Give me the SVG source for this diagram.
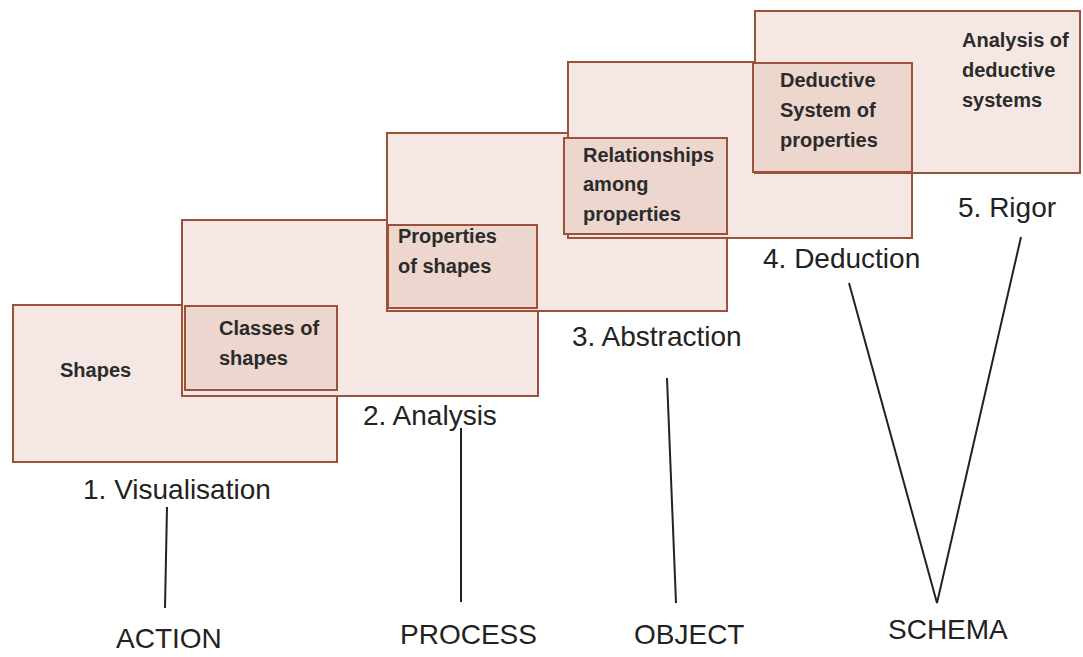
<svg xmlns="http://www.w3.org/2000/svg" width="1083" height="657" viewBox="0 0 1083 657">
<style>
.box{fill:#f5e8e4;stroke:#9c5238;stroke-width:2}
.inner{fill:#ecd6cd;stroke:#9c5238;stroke-width:2}
.in{font-family:"Liberation Sans",Arial,sans-serif;font-size:20px;font-weight:bold;fill:#2b2b2b}
.lbl{font-family:"Liberation Sans",Arial,sans-serif;font-size:28px;fill:#222}
.con{fill:none;stroke:#222;stroke-width:2}
</style>
<rect width="1083" height="657" fill="#ffffff"/>
<g id="level1"><rect class="box" x="13" y="305" width="324" height="157"/></g>
<g id="level2"><rect class="box" x="182" y="220" width="356" height="176"/></g>
<g id="level3"><rect class="box" x="387" y="133" width="340" height="178"/></g>
<g id="level4"><rect class="box" x="568" y="62" width="344" height="176"/></g>
<g id="level5"><rect class="box" x="755" y="11" width="325" height="162"/></g>
<g id="overlap12"><rect class="inner" x="185" y="306" width="152" height="84"/></g>
<g id="overlap23"><rect class="inner" x="388" y="225" width="149" height="83"/></g>
<g id="overlap34"><rect class="inner" x="564" y="138" width="163" height="96"/></g>
<g id="overlap45"><rect class="inner" x="753" y="63" width="159" height="109"/></g>
<g id="texts-inner">
<text class="in" x="60" y="377">Shapes</text>
<text class="in" x="219" y="335">Classes of</text>
<text class="in" x="219" y="365">shapes</text>
<text class="in" x="398" y="243">Properties</text>
<text class="in" x="398" y="273">of shapes</text>
<text class="in" x="583" y="162">Relationships</text>
<text class="in" x="583" y="191">among</text>
<text class="in" x="583" y="221">properties</text>
<text class="in" x="780" y="87">Deductive</text>
<text class="in" x="780" y="117">System of</text>
<text class="in" x="780" y="147">properties</text>
<text class="in" x="962" y="47">Analysis of</text>
<text class="in" x="962" y="77">deductive</text>
<text class="in" x="962" y="107">systems</text>
</g>
<g id="labels">
<text class="lbl" x="83" y="499">1. Visualisation</text>
<text class="lbl" x="363" y="425">2. Analysis</text>
<text class="lbl" x="572" y="346">3. Abstraction</text>
<text class="lbl" x="763" y="268">4. Deduction</text>
<text class="lbl" x="958" y="217">5. Rigor</text>
</g>
<g id="connectors">
<line class="con" x1="167" y1="507" x2="165" y2="608"/>
<line class="con" x1="461" y1="428" x2="461" y2="602"/>
<line class="con" x1="667" y1="378" x2="676" y2="603"/>
<polyline class="con" points="849,283 937,603 1021,237"/>
</g>
<g id="action"><text class="lbl" x="116" y="648">ACTION</text></g>
<g id="process"><text class="lbl" x="400" y="644">PROCESS</text></g>
<g id="object"><text class="lbl" x="634" y="644">OBJECT</text></g>
<g id="schema"><text class="lbl" x="888" y="639">SCHEMA</text></g>
</svg>
